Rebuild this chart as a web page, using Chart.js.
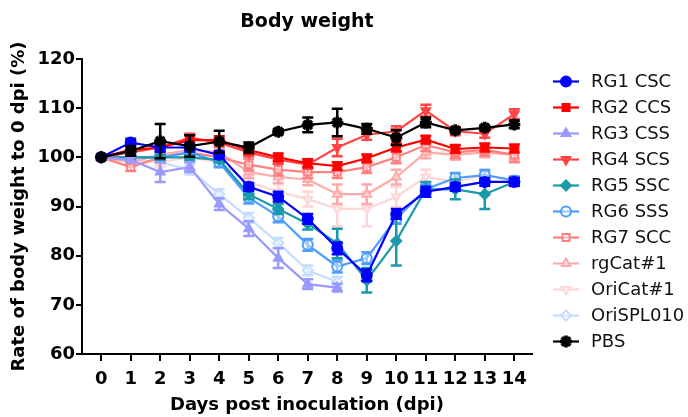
<!DOCTYPE html>
<html>
<head>
<meta charset="utf-8">
<script src="https://cdn.jsdelivr.net/npm/chart.js@4.4.0/dist/chart.umd.min.js"></script>
<style>
  html, body { margin: 0; padding: 0; background: #fff; }
  #wrap { width: 688px; height: 417px; }
</style>
</head>
<body>
<div id="wrap"><canvas id="bw"></canvas></div>
<script>
// days post inoculation
const days = [0, 1, 2, 3, 4, 5, 6, 7, 8, 9, 10, 11, 12, 13, 14]

// mean body weight (% of day 0) and error per group
const rg1 = [100, 103, 102, 102, 100.5, 94, 92, 87.5, 81.5, 76, 88.5, 93, 94, 95, 95]
const rg1Err = [0, 0.8, 0.8, 0.8, 0.8, 0.8, 1, 1, 1.2, 1.2, 1, 1, 0.8, 0.8, 0.8]
const rg2 = [100, 101.5, 102, 103.5, 103.5, 101.5, 100, 98.8, 98.2, 99.8, 102, 103.6, 101.7, 102, 101.8]
const rg2Err = [0, 0.8, 0.8, 1, 0.8, 0.8, 0.8, 0.8, 0.8, 0.8, 0.8, 0.8, 0.8, 0.8, 0.8]
const rg3 = [100, 99.5, 97, 98, 90.5, 85.5, 79.5, 74.2, 73.5]
const rg3Err = [0, 0.5, 2, 1, 1.2, 1.5, 2, 1, 0.8]
const rg4 = [100, 101, 102, 104, 103, 101, 99.5, 98.5, 102, 104.6, 105.3, 109.5, 105.3, 104.8, 108.8]
const rg4Err = [0, 0.8, 0.8, 0.8, 0.8, 0.8, 0.8, 0.8, 1.8, 1, 1, 1.2, 0.8, 0.8, 1]
const rg5 = [100, 100, 100, 100, 99.5, 92.5, 89.5, 86.5, 82.5, 75, 83, 93.5, 93.5, 92.5, 95]
const rg5Err = [0, 0.5, 0.5, 0.5, 0.5, 1, 1, 1.2, 3, 2.5, 5, 1.5, 2, 3, 0.8]
const rg6 = [100, 100, 100, 101, 99, 91.8, 88, 82.2, 77.8, 79.5, 87.5, 93.5, 95.8, 96.4, 95.3]
const rg6Err = [0, 0.5, 0.5, 0.5, 1, 1.2, 1.2, 1.2, 1.2, 1.2, 1, 1, 1, 1, 0.8]
const rg7 = [100, 98, 100, 101, 100, 98.5, 97.5, 97, 97, 98, 100, 102.5, 101, 101.5, 100.5]
const rg7Err = [0, 0.8, 1, 1, 1, 1.2, 1.2, 1.2, 1.2, 1.2, 1.2, 1.2, 1.2, 1.2, 1.5]
const rgCat = [100, 99, 100.5, 101.5, 101, 97, 96, 95.5, 92.5, 92.5, 96, 101, 100.5, 101, 100.5]
const rgCatErr = [0, 0.8, 0.8, 0.8, 0.8, 1.2, 1.2, 1.2, 2, 2, 1.5, 1.2, 1, 1, 1]
const oriCat = [100, 99.5, 99, 100, 99, 95, 93, 91.5, 89.5, 89.5, 92, 96, 95, 96.5, 95]
const oriCatErr = [0, 0.8, 0.8, 0.8, 0.8, 1.2, 1.5, 1.5, 3.5, 3.5, 2, 1.5, 1, 1, 1]
const oriSpl = [100, 99.5, 99, 97.5, 92.5, 87.7, 82.6, 77, 74.7]
const oriSplErr = [0, 0.5, 0.8, 1, 1, 1, 1, 1, 1]
const pbs = [100, 101.3, 103.3, 102.3, 103.2, 102, 105.2, 106.6, 107.1, 105.8, 104, 107.1, 105.5, 106, 106.7]
const pbsErr = [0, 1, 3.5, 2.2, 2.2, 1, 0.5, 1.5, 2.8, 1, 1.5, 1, 0.5, 0.5, 0.8]

const yTicks = [60, 70, 80, 90, 100, 110, 120]

const FONT = "'DejaVu Sans', Verdana, sans-serif"
const OPEN = 'rgba(255,255,255,0.45)'

const series = [
  { label: 'RG1 CSC', values: rg1, err: rg1Err, color: '#0000ff', shape: 'circle' },
  { label: 'RG2 CCS', values: rg2, err: rg2Err, color: '#ff0000', shape: 'rect' },
  { label: 'RG3 CSS', values: rg3, err: rg3Err, color: '#9999ff', shape: 'triangle' },
  { label: 'RG4 SCS', values: rg4, err: rg4Err, color: '#ff4545', shape: 'triangle', rot: 180 },
  { label: 'RG5 SSC', values: rg5, err: rg5Err, color: '#1a99aa', shape: 'rectRot' },
  { label: 'RG6 SSS', values: rg6, err: rg6Err, color: '#4d9cff', shape: 'circle', open: true },
  { label: 'RG7 SCC', values: rg7, err: rg7Err, color: '#ff8080', shape: 'rect', open: true },
  { label: 'rgCat#1', values: rgCat, err: rgCatErr, color: '#ffaaaa', shape: 'triangle', open: true },
  { label: 'OriCat#1', values: oriCat, err: oriCatErr, color: '#ffd6d6', shape: 'triangle', rot: 180, open: true },
  { label: 'OriSPL010', values: oriSpl, err: oriSplErr, color: '#c6ddff', shape: 'rectRot', open: true },
  { label: 'PBS', values: pbs, err: pbsErr, color: '#000000', shape: 'star' },
]

const datasets = series.map((s, i) => ({
  label: s.label,
  data: s.values.map((v, j) => ({ x: days[j], y: v })),
  errors: s.err,
  borderColor: s.color,
  backgroundColor: s.open ? OPEN : s.color,
  borderWidth: 2.2,
  pointStyle: s.shape,
  pointRotation: s.rot || 0,
  pointRadius: s.shape === 'star' ? 6 : 5,
  pointBorderWidth: s.shape === 'star' ? 3.5 : 2,
  pointBackgroundColor: s.open ? OPEN : s.color,
  pointBorderColor: s.color,
  tension: 0,
  order: s.label === 'PBS' ? 0 : i + 1,
}))

// vertical error bars, drawn under each dataset's own line
const errorBars = {
  id: 'errorBars',
  beforeDatasetDraw(chart, args) {
    const ds = chart.data.datasets[args.index]
    const y = chart.scales.y
    const ctx = chart.ctx
    ctx.save()
    ctx.strokeStyle = ds.borderColor
    ctx.lineWidth = 2.5
    args.meta.data.forEach((pt, j) => {
      const v = ds.data[j].y
      const e = ds.errors[j]
      if (!e) return
      const top = y.getPixelForValue(v + e)
      const bot = y.getPixelForValue(v - e)
      ctx.beginPath()
      ctx.moveTo(pt.x, top); ctx.lineTo(pt.x, bot)
      ctx.moveTo(pt.x - 5.5, top); ctx.lineTo(pt.x + 5.5, top)
      ctx.moveTo(pt.x - 5.5, bot); ctx.lineTo(pt.x + 5.5, bot)
      ctx.stroke()
    })
    ctx.restore()
  }
}

// title and line+symbol legend on the right
const decor = {
  id: 'decor',
  afterDraw(chart) {
    const ctx = chart.ctx
    const area = chart.chartArea
    ctx.save()
    ctx.fillStyle = '#000'
    ctx.font = `bold 19px ${FONT}`
    ctx.textAlign = 'center'
    ctx.textBaseline = 'alphabetic'
    ctx.fillText('Body weight', (area.left + area.right) / 2, 27)

    ctx.font = `18px ${FONT}`
    ctx.textAlign = 'left'
    ctx.textBaseline = 'middle'
    chart.data.datasets.forEach((ds, i) => {
      const yy = 81.5 + 26 * i
      ctx.strokeStyle = ds.borderColor
      ctx.lineWidth = 2.2
      ctx.beginPath()
      ctx.moveTo(553, yy); ctx.lineTo(579, yy)
      ctx.stroke()
      ctx.fillStyle = ds.pointBackgroundColor
      ctx.lineWidth = ds.pointBorderWidth
      Chart.helpers.drawPoint(ctx, {
        pointStyle: ds.pointStyle, rotation: ds.pointRotation,
        radius: ds.pointRadius, borderWidth: ds.pointBorderWidth
      }, 566, yy)
      ctx.fillStyle = '#111'
      ctx.fillText(ds.label, 591, yy + 1)
    })
    ctx.restore()
  }
}

new Chart(document.getElementById('bw'), {
  type: 'line',
  data: { datasets },
  plugins: [errorBars, decor],
  options: {
    responsive: true,
    maintainAspectRatio: false,
    animation: false,
    layout: { padding: { top: 59, right: 156, left: 0, bottom: 0 } },
    scales: {
      x: {
        type: 'linear',
        min: -0.65,
        max: 14.6,
        afterBuildTicks: scale => { scale.ticks = days.map(d => ({ value: d })) },
        afterFit: scale => { scale.height = 63 },
        border: { display: true, color: '#000', width: 2 },
        grid: { display: true, drawOnChartArea: false, drawTicks: true, tickLength: 7, color: '#000', lineWidth: 2 },
        ticks: { color: '#000', padding: 8, maxRotation: 0, autoSkip: false, font: { family: FONT, size: 18, weight: 'bold' } },
        title: {
          display: true,
          text: 'Days post inoculation (dpi)',
          color: '#000',
          padding: { top: 4, bottom: 1 },
          font: { family: FONT, size: 18, weight: 'bold' },
        },
      },
      y: {
        min: 60,
        max: 120,
        afterBuildTicks: scale => { scale.ticks = yTicks.map(v => ({ value: v })) },
        afterFit: scale => { scale.width = 82 },
        border: { display: true, color: '#000', width: 2 },
        grid: { display: true, drawOnChartArea: false, drawTicks: true, tickLength: 6, color: '#000', lineWidth: 2 },
        ticks: { color: '#000', padding: 1, font: { family: FONT, size: 18, weight: 'bold' } },
        title: {
          display: true,
          text: 'Rate of body weight to 0 dpi (%)',
          color: '#000',
          padding: { top: 9, bottom: 0 },
          font: { family: FONT, size: 18, weight: 'bold' },
        },
      },
    },
    plugins: {
      legend: { display: false },
      tooltip: { enabled: false },
      title: { display: false },
    },
  },
})
</script>
</body>
</html>
